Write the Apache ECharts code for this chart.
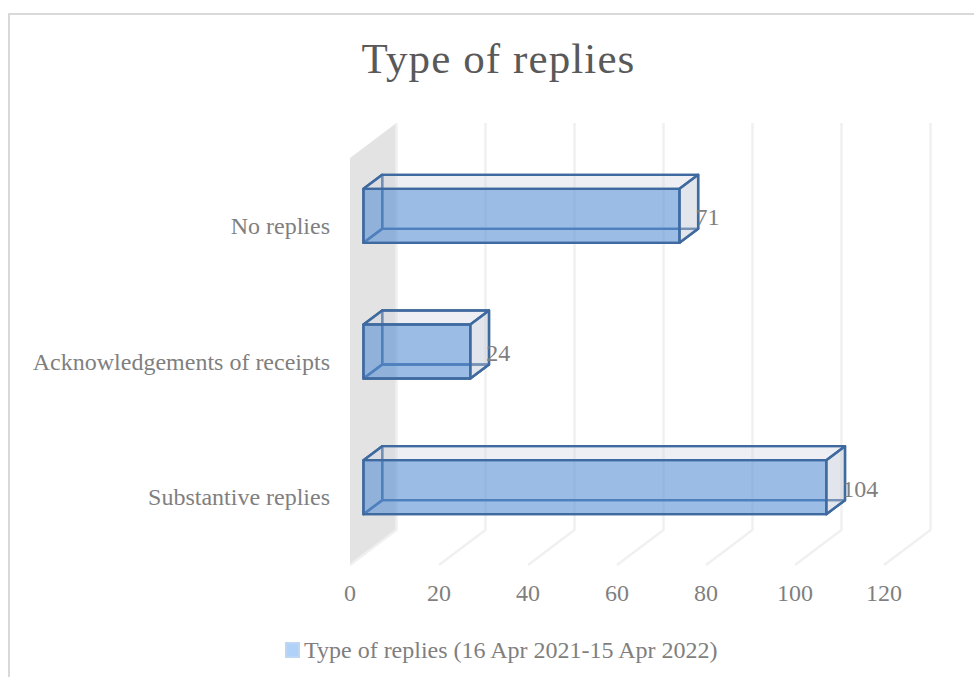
<!DOCTYPE html>
<html>
<head>
<meta charset="utf-8">
<style>html,body{margin:0;padding:0;background:#fff;overflow:hidden}#c{width:974px;height:677px}</style>
<script src="https://cdn.jsdelivr.net/npm/echarts@6/dist/echarts.min.js"></script>
</head>
<body>
<div id="c"></div>
<script>
const titleText = 'Type of replies';
const seriesName = 'Type of replies (16 Apr 2021-15 Apr 2022)';
const categories = ['Substantive replies', 'Acknowledgements of receipts', 'No replies'];
const values = [104, 24, 71];
const xTicks = [0, 20, 40, 60, 80, 100, 120];

const FONT = '"Liberation Serif", "Times New Roman", serif';
const TEXT = '#7f7f7f';
const EDGE = '#3f6a9f';
// oblique projection of the 3D box (pixels)
const WALL = {dx: 46.5, dy: -35};
const BAR_START = {dx: 13.5, dy: -10};
const BAR_DEPTH = {dx: 18.7, dy: -14};
const BAR_H = 54;

const poly = (pts, fill, z2) => ({
  type: 'polygon', z2,
  shape: {points: pts},
  style: {fill, stroke: EDGE, lineWidth: 2.4, lineJoin: 'round'}
});

function renderWall(params) {
  const c = params.coordSys;
  const x0 = c.x, t = c.y, b = c.y + c.height;
  return {
    type: 'polygon',
    shape: {points: [[x0, t], [x0 + WALL.dx, t + WALL.dy], [x0 + WALL.dx, b + WALL.dy], [x0, b]]},
    style: {fill: '#e3e3e3'}
  };
}

function renderGrid(params, api) {
  const c = params.coordSys;
  const x = api.coord([api.value(0), 0])[0];
  const t = c.y, b = c.y + c.height;
  return {
    type: 'polyline',
    shape: {points: [[x, b], [x + WALL.dx, b + WALL.dy], [x + WALL.dx, t + WALL.dy]]},
    style: {fill: 'none', stroke: '#f0f0f0', lineWidth: 2.4}
  };
}

function renderBar(params, api) {
  const p0 = api.coord([0, api.value(1)]);
  const p1 = api.coord([api.value(0), api.value(1)]);
  const L = p0[0] + BAR_START.dx, R = p1[0] + BAR_START.dx;
  const cy = p0[1] + BAR_START.dy;
  const T = cy - BAR_H / 2, B = cy + BAR_H / 2;
  const dx = BAR_DEPTH.dx, dy = BAR_DEPTH.dy;
  return {
    type: 'group',
    children: [
      poly([[L, T], [L + dx, T + dy], [L + dx, B + dy], [L, B]], 'none', 1),
      poly([[L, B], [L + dx, B + dy], [R + dx, B + dy], [R, B]], 'none', 2),
      poly([[L + dx, T + dy], [R + dx, T + dy], [R + dx, B + dy], [L + dx, B + dy]], 'none', 3),
      poly([[L, T], [L + dx, T + dy], [R + dx, T + dy], [R, T]], 'rgba(205,210,225,0.36)', 4),
      poly([[R, T], [R + dx, T + dy], [R + dx, B + dy], [R, B]], 'rgba(190,198,212,0.44)', 5),
      poly([[L, T], [R, T], [R, B], [L, B]], 'rgba(88,143,212,0.6)', 6),
      {
        type: 'text', z2: 7,
        x: R + 16, y: cy + 1.5,
        style: {text: String(api.value(0)), font: '24px ' + FONT, fill: TEXT, align: 'left', verticalAlign: 'middle'}
      }
    ]
  };
}

const chart = echarts.init(document.getElementById('c'), null, {renderer: 'svg'});
chart.setOption({
  animation: false,
  backgroundColor: '#fff',
  title: {
    text: titleText, left: 493.5, top: 32, textAlign: 'center',
    textStyle: {fontFamily: FONT, fontSize: 43, fontWeight: 'normal', color: '#595959'}
  },
  legend: {
    data: [seriesName], left: 280, top: 633, icon: 'rect', itemWidth: 13, itemHeight: 14,
    textStyle: {fontFamily: FONT, fontSize: 24, color: TEXT}
  },
  grid: {left: 350, top: 158, width: 534, height: 407, containLabel: false},
  xAxis: {
    type: 'value', min: 0, max: 120, interval: 20,
    axisLine: {show: false}, axisTick: {show: false}, splitLine: {show: false},
    axisLabel: {margin: 16, fontFamily: FONT, fontSize: 24, color: TEXT}
  },
  yAxis: {
    type: 'category', data: categories,
    axisLine: {show: false}, axisTick: {show: false}, splitLine: {show: false},
    axisLabel: {margin: 20, fontFamily: FONT, fontSize: 24, color: TEXT, padding: [6, 0, 0, 0]}
  },
  graphic: [{
    type: 'rect', silent: true, z: -1,
    shape: {x: 9, y: 14, width: 1100, height: 800},
    style: {fill: 'none', stroke: '#d9d9d9', lineWidth: 2}
  }],
  series: [
    {type: 'custom', name: 'wall', silent: true, z: 1, renderItem: renderWall, data: [[0, 0]], encode: {x: 0, y: 1}},
    {type: 'custom', name: 'grid', silent: true, z: 2, renderItem: renderGrid, data: xTicks.map(t => [t, 0]), encode: {x: 0, y: 1}},
    {
      type: 'custom', name: seriesName, silent: true, z: 3, renderItem: renderBar,
      itemStyle: {color: '#b0d2f8', borderColor: '#bcd6f3', borderWidth: 1},
      data: values.map((v, i) => [v, i]), encode: {x: 0, y: 1}
    }
  ]
});
// The reference title is letter-spaced; ECharts has no option for it, so apply it to the rendered SVG text.
function spaceTitle() {
  document.querySelectorAll('#c svg text').forEach(t => {
    if (t.textContent === titleText) t.setAttribute('letter-spacing', '1.1');
  });
}
spaceTitle();
chart.on('finished', spaceTitle);
</script>
</body>
</html>
